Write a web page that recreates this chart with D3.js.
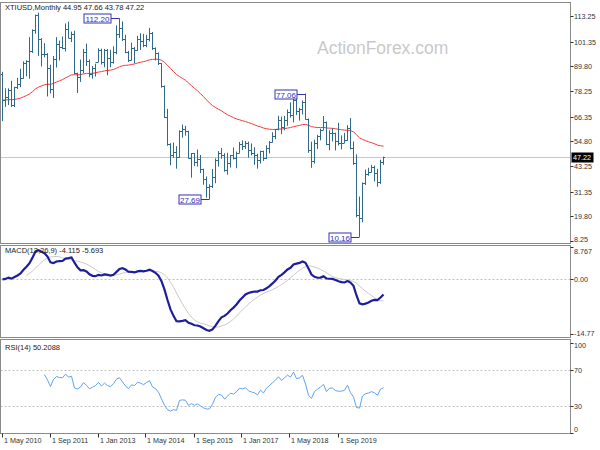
<!DOCTYPE html>
<html><head><meta charset="utf-8">
<script src="https://cdn.jsdelivr.net/npm/d3@7"></script>
<style>
body{margin:0;background:#fff}
svg{display:block}
text{font-family:"Liberation Sans",Arial,sans-serif}
</style>
</head><body>
<svg id="chart" width="600" height="450"></svg>
<script>
// ---------- DATA ----------
const startMonth = new Date(2010, 4, 1);   // first bar: May 2010
const opens = [
 86.2, 74.0, 75.6, 78.9, 71.9, 80.0, 81.4, 84.1,
 91.4, 92.2, 97.0, 106.7, 113.9, 102.7, 95.4, 95.7, 88.8, 79.2, 93.2, 100.4,
 98.8, 98.5, 107.1, 103.0, 104.9, 86.5, 85.0, 88.1, 96.5, 92.2, 86.2, 88.9,
 91.8, 97.5, 92.0, 97.2, 93.5, 92.0, 96.6, 105.0, 107.6, 102.3, 96.4, 92.7,
 98.4, 97.5, 102.6, 101.6, 99.7, 102.7, 105.4, 98.2, 96.0, 91.2, 80.5, 66.2,
 53.3, 48.2, 49.8, 47.6, 59.6, 60.3, 59.5, 47.1, 49.2, 45.1, 46.6, 41.7,
 37.0, 33.6, 33.8, 38.3, 45.9, 49.1, 48.3, 41.6, 44.7, 48.2, 46.9, 49.4,
 53.7, 52.8, 54.0, 50.6, 49.3, 48.3, 46.0, 50.2, 47.2, 51.7, 54.4, 57.4,
 60.4, 64.7, 61.6, 64.9, 68.6, 67.0, 74.2, 68.8, 69.8, 73.3, 65.3, 50.9,
 45.4, 53.8, 57.2, 60.1, 63.9, 53.5, 58.5, 58.6, 55.1, 54.1, 54.2, 55.2,
 61.1, 51.6, 44.8, 20.5, 18.8, 35.5, 39.3, 40.3, 42.6, 40.2, 35.8, 44.95
];
const highs = [
 87.2, 79.5, 79.5, 83.0, 80.2, 84.4, 88.6, 92.1,
 92.6, 103.4, 107.0, 113.9, 114.8, 102.9, 100.6, 95.9, 90.5, 94.6, 103.4, 101.8,
 103.7, 109.8, 110.6, 106.0, 106.4, 86.8, 92.9, 97.9, 100.4, 93.0, 89.9, 91.0,
 98.2, 98.0, 97.9, 97.8, 97.5, 99.1, 108.9, 112.2, 110.7, 104.5, 97.0, 100.8,
 98.8, 104.0, 105.2, 104.9, 104.5, 107.7, 105.8, 98.6, 96.2, 91.3, 80.8, 69.9,
 53.9, 54.2, 52.5, 59.9, 62.6, 62.0, 59.7, 49.3, 49.3, 50.9, 48.4, 42.0,
 38.4, 34.7, 41.9, 46.8, 50.2, 51.7, 49.2, 49.4, 48.4, 51.9, 50.0, 54.5,
 55.2, 54.9, 54.6, 53.8, 52.0, 49.0, 50.4, 50.4, 52.9, 54.9, 59.0, 60.5,
 66.7, 66.3, 66.6, 69.6, 72.9, 74.5, 75.3, 70.4, 73.8, 77.06, 65.4, 54.6,
 55.5, 57.8, 60.7, 66.6, 64.0, 59.9, 60.9, 58.8, 63.4, 57.5, 58.7, 62.3,
 65.6, 54.7, 48.7, 29.0, 35.6, 41.6, 42.4, 43.8, 43.4, 41.9, 46.2, 47.66
];
const lows = [
 64.2, 70.8, 71.7, 70.8, 70.8, 79.2, 80.0, 84.0,
 85.1, 84.0, 96.0, 105.0, 94.6, 89.7, 94.0, 75.7, 77.1, 75.0, 89.2, 92.5,
 97.8, 96.7, 102.9, 101.1, 86.0, 77.3, 82.5, 86.6, 89.9, 84.7, 84.0, 85.0,
 91.8, 90.6, 89.3, 85.6, 89.3, 91.0, 95.4, 103.0, 101.6, 95.9, 91.8, 92.5,
 91.2, 96.9, 97.4, 98.7, 98.7, 101.4, 97.4, 92.5, 90.4, 79.8, 65.7, 52.7,
 43.6, 47.0, 42.0, 47.0, 56.5, 57.4, 46.7, 37.8, 43.2, 43.0, 39.9, 34.5,
 28.5, 27.69, 33.0, 35.2, 43.0, 46.6, 40.6, 39.2, 42.5, 46.3, 42.2, 49.2,
 50.7, 51.2, 47.1, 48.2, 43.8, 42.0, 44.4, 45.6, 46.5, 49.1, 54.2, 55.8,
 59.9, 58.1, 59.9, 62.0, 65.8, 63.6, 67.0, 64.4, 67.3, 64.9, 49.4, 42.4,
 44.4, 51.2, 55.2, 60.0, 53.0, 50.6, 54.7, 50.5, 52.8, 51.0, 54.0, 55.0,
 51.0, 43.8, 19.3, 10.16, 17.0, 34.4, 38.7, 40.2, 36.1, 33.6, 34.9, 43.78
];
const closes = [
 74.0, 75.6, 78.9, 71.9, 80.0, 81.4, 84.1, 91.4,
 92.2, 97.0, 106.7, 113.9, 102.7, 95.4, 95.7, 88.8, 79.2, 93.2, 100.4, 98.8,
 98.5, 107.1, 103.0, 104.9, 86.5, 85.0, 88.1, 96.5, 92.2, 86.2, 88.9, 91.8,
 97.5, 92.0, 97.2, 93.5, 92.0, 96.6, 105.0, 107.6, 102.3, 96.4, 92.7, 98.4,
 97.5, 102.6, 101.6, 99.7, 102.7, 105.4, 98.2, 96.0, 91.2, 80.5, 66.2, 53.3,
 48.2, 49.8, 47.6, 59.6, 60.3, 59.5, 47.1, 49.2, 45.1, 46.6, 41.7, 37.0,
 33.6, 33.8, 38.3, 45.9, 49.1, 48.3, 41.6, 44.7, 48.2, 46.9, 49.4, 53.7,
 52.8, 54.0, 50.6, 49.3, 48.3, 46.0, 50.2, 47.2, 51.7, 54.4, 57.4, 60.4,
 64.7, 61.6, 64.9, 68.6, 67.0, 74.2, 68.8, 69.8, 73.3, 65.3, 50.9, 45.4,
 53.8, 57.2, 60.1, 63.9, 53.5, 58.5, 58.6, 55.1, 54.1, 54.2, 55.2, 61.1,
 51.6, 44.8, 20.5, 18.8, 35.5, 39.3, 40.3, 42.6, 40.2, 35.8, 44.95, 47.22
];
const priceTicks = [113.25, 101.35, 89.80, 78.25, 66.35, 54.80, 43.25, 31.35, 19.80, 8.25];
const lastPrice = 47.22;
const macdTicks = [8.767, 0, -14.77];
const macdTickLabels = ["8.767", "0.00", "-14.77"];
const rsiTicks = [100, 70, 30, 0];
const rsiLevels = [70, 30];
const xTickIndex = [0, 16, 32, 48, 64, 80, 96, 112];
const xTickLabels = ["1 May 2010", "1 Sep 2011", "1 Jan 2013", "1 May 2014", "1 Sep 2015", "1 Jan 2017", "1 May 2018", "1 Sep 2019"];
const markIndex = [39, 69, 101, 119];
const markKind = ["high", "low", "high", "low"];
const markText = ["112.20", "27.69", "77.06", "10.16"];
const titleText = "XTIUSD,Monthly  44.95 47.66 43.78 47.22";
const macdText = "MACD(12,26,9) -4.115 -5.693";
const rsiText = "RSI(14) 50.2088";
const watermark = "ActionForex.com";

// ---------- INDICATORS ----------
const months = d3.timeMonth.range(startMonth, d3.timeMonth.offset(startMonth, closes.length));
function ema(arr, n) { const k = 2 / (n + 1); const out = []; arr.forEach((v, i) => out.push(i === 0 ? v : out[i - 1] + k * (v - out[i - 1]))); return out; }
const ma55 = ema(closes, 55);
const e12 = ema(closes, 12), e26 = ema(closes, 26);
const macd = closes.map((_, i) => e12[i] - e26[i]);
const signal = macd.map((_, i) => i >= 8 ? d3.mean(macd.slice(i - 8, i + 1)) : null);
const rsi = closes.map(() => null);
(function () {
  const P = 14; let sp = 0, sn = 0;
  for (let i = 1; i <= P; i++) { const d = closes[i] - closes[i - 1]; if (d > 0) sp += d; else sn -= d; }
  let pos = sp / P, neg = sn / P;
  rsi[P] = neg === 0 ? 100 : 100 - 100 / (1 + pos / neg);
  for (let i = P + 1; i < closes.length; i++) {
    const d = closes[i] - closes[i - 1];
    pos = (pos * (P - 1) + (d > 0 ? d : 0)) / P;
    neg = (neg * (P - 1) + (d < 0 ? -d : 0)) / P;
    rsi[i] = neg === 0 ? 100 : 100 - 100 / (1 + pos / neg);
  }
})();

// ---------- LAYOUT ----------
const svg = d3.select("#chart");
const plotL = 0.5, plotR = 570.5;
const panels = {
  main: { top: 2.5, bottom: 243.5 },
  macd: { top: 245.5, bottom: 337.5 },
  rsi: { top: 339.5, bottom: 433.5 }
};
const x = d3.scaleLinear().domain([0, closes.length - 1]).range([2.5, 2.5 + 3 * (closes.length - 1)]);
const yP = d3.scaleLinear().domain([8.25, 113.25]).range([241, 16]);
const yM = d3.scaleLinear().domain([-14.77, 8.767]).range([334, 247]);
const yR = d3.scaleLinear().domain([0, 100]).range([433, 343]);

const axisColor = "#333";
const borderColor = "#8a8a8a";
const fs = 7.2;

const defs = svg.append("defs");
Object.entries(panels).forEach(([k, p]) => {
  defs.append("clipPath").attr("id", "clip-" + k).append("rect")
    .attr("x", plotL).attr("y", p.top).attr("width", plotR - plotL).attr("height", p.bottom - p.top);
});

// watermark
svg.append("text").attr("x", 317).attr("y", 54).attr("font-size", 17.5).attr("fill", "#c9c9c9").text(watermark);

// current price line
svg.append("line").attr("x1", plotL).attr("x2", plotR).attr("y1", Math.round(yP(lastPrice)) + 0.5).attr("y2", Math.round(yP(lastPrice)) + 0.5)
  .attr("stroke", "#c8c8c8").attr("stroke-width", 1);

// MA line
const gMain = svg.append("g").attr("clip-path", "url(#clip-main)");
gMain.append("path").datum(ma55).attr("fill", "none").attr("stroke", "#f23a3a").attr("stroke-width", 1)
  .attr("d", d3.line().x((d, i) => x(i)).y(d => yP(d)));

// OHLC bars
const barColor = "#2f6a8a";
const bars = gMain.selectAll("g.bar").data(closes.map((c, i) => i)).join("g").attr("class", "bar");
bars.append("line").attr("x1", i => x(i)).attr("x2", i => x(i)).attr("y1", i => yP(highs[i])).attr("y2", i => yP(lows[i]))
  .attr("stroke", barColor).attr("stroke-width", 1);
bars.append("line").attr("x1", i => x(i) - 1.5).attr("x2", i => x(i)).attr("y1", i => Math.round(yP(opens[i])) + 0.5).attr("y2", i => Math.round(yP(opens[i])) + 0.5)
  .attr("stroke", barColor).attr("stroke-width", 1);
bars.append("line").attr("x1", i => x(i)).attr("x2", i => x(i) + 1.5).attr("y1", i => Math.round(yP(closes[i])) + 0.5).attr("y2", i => Math.round(yP(closes[i])) + 0.5)
  .attr("stroke", barColor).attr("stroke-width", 1);

// high / low marker labels
markIndex.forEach((idx, k) => {
  const v = markKind[k] === "high" ? highs[idx] : lows[idx];
  const yy = Math.round(yP(v)) + 0.5;
  const bx = x(idx);
  const w = markText[k].length > 5 ? 27 : 22, h = 9;
  const right = bx - 8.5;
  svg.append("line").attr("x1", right).attr("x2", bx).attr("y1", yy).attr("y2", yy).attr("stroke", "#3434b4").attr("stroke-width", 1);
  svg.append("rect").attr("x", right - w).attr("y", yy - h / 2).attr("width", w).attr("height", h)
    .attr("fill", "#fff").attr("stroke", "#3434b4").attr("stroke-width", 1);
  svg.append("text").attr("x", right - w / 2).attr("y", yy + 3).attr("text-anchor", "middle").attr("font-size", 8)
    .attr("fill", "#3434b4").text(markText[k]);
});

// MACD panel
svg.append("line").attr("x1", plotL).attr("x2", plotR).attr("y1", Math.round(yM(0)) + 0.5).attr("y2", Math.round(yM(0)) + 0.5)
  .attr("stroke", "#c0c0c0").attr("stroke-dasharray", "2,2");
const gM = svg.append("g").attr("clip-path", "url(#clip-macd)");
gM.append("path").datum(signal).attr("fill", "none").attr("stroke", "#c8c8c8").attr("stroke-width", 1)
  .attr("d", d3.line().defined(d => d !== null).x((d, i) => x(i)).y(d => yM(d)));
gM.append("path").datum(macd).attr("fill", "none").attr("stroke", "#1e1e9c").attr("stroke-width", 2.2)
  .attr("d", d3.line().x((d, i) => x(i)).y(d => yM(d)));

// RSI panel
rsiLevels.forEach(l => {
  svg.append("line").attr("x1", plotL).attr("x2", plotR).attr("y1", Math.round(yR(l)) + 0.5).attr("y2", Math.round(yR(l)) + 0.5)
    .attr("stroke", "#c0c0c0").attr("stroke-dasharray", "2,2");
});
const gR = svg.append("g").attr("clip-path", "url(#clip-rsi)");
gR.append("path").datum(rsi).attr("fill", "none").attr("stroke", "#5ea3f2").attr("stroke-width", 1)
  .attr("d", d3.line().defined(d => d !== null).x((d, i) => x(i)).y(d => yR(d)));

// panel borders
Object.values(panels).forEach(p => {
  svg.append("rect").attr("x", plotL).attr("y", p.top).attr("width", plotR - plotL).attr("height", p.bottom - p.top)
    .attr("fill", "none").attr("stroke", borderColor).attr("stroke-width", 1);
});

// right axes (labels kept inside their panel's vertical extent)
function rightAxis(scale, ticks, labels, panel) {
  ticks.forEach((t, i) => {
    const yy = Math.round(scale(t)) + 0.5;
    const ty = Math.min(Math.max(yy + 2.6, panel.top + 8.5), panel.bottom - 2);
    svg.append("line").attr("x1", plotR).attr("x2", plotR + 3).attr("y1", yy).attr("y2", yy).attr("stroke", axisColor);
    svg.append("text").attr("x", plotR + 3.5).attr("y", ty).attr("font-size", fs).attr("fill", axisColor).text(labels[i]);
  });
}
rightAxis(yP, priceTicks, priceTicks.map(d => d.toFixed(2)), { top: -100, bottom: 244 });
rightAxis(yM, macdTicks, macdTickLabels, panels.macd);
rightAxis(yR, rsiTicks, rsiTicks.map(String), panels.rsi);

// current price tag
const ly = Math.round(yP(lastPrice)) + 0.5;
svg.append("rect").attr("x", plotR + 1).attr("y", ly - 5).attr("width", 22).attr("height", 10).attr("fill", "#000");
svg.append("text").attr("x", plotR + 2.5).attr("y", ly + 2.6).attr("font-size", fs).attr("fill", "#fff").text(lastPrice.toFixed(2));

// x axis
xTickIndex.forEach((idx, k) => {
  const xx = Math.round(x(idx)) - 0.5;
  svg.append("line").attr("x1", xx).attr("x2", xx).attr("y1", panels.rsi.bottom).attr("y2", panels.rsi.bottom + 4).attr("stroke", axisColor);
  svg.append("text").attr("x", xx + 1.5).attr("y", 443).attr("font-size", fs).attr("fill", axisColor).text(xTickLabels[k]);
});

// titles
svg.append("text").attr("x", 5).attr("y", 10).attr("font-size", 7.5).attr("fill", "#222").text(titleText);
svg.append("text").attr("x", 5).attr("y", 253).attr("font-size", 7.5).attr("fill", "#222").text(macdText);
svg.append("text").attr("x", 5).attr("y", 350).attr("font-size", 7.5).attr("fill", "#222").text(rsiText);
</script>
</body></html>
